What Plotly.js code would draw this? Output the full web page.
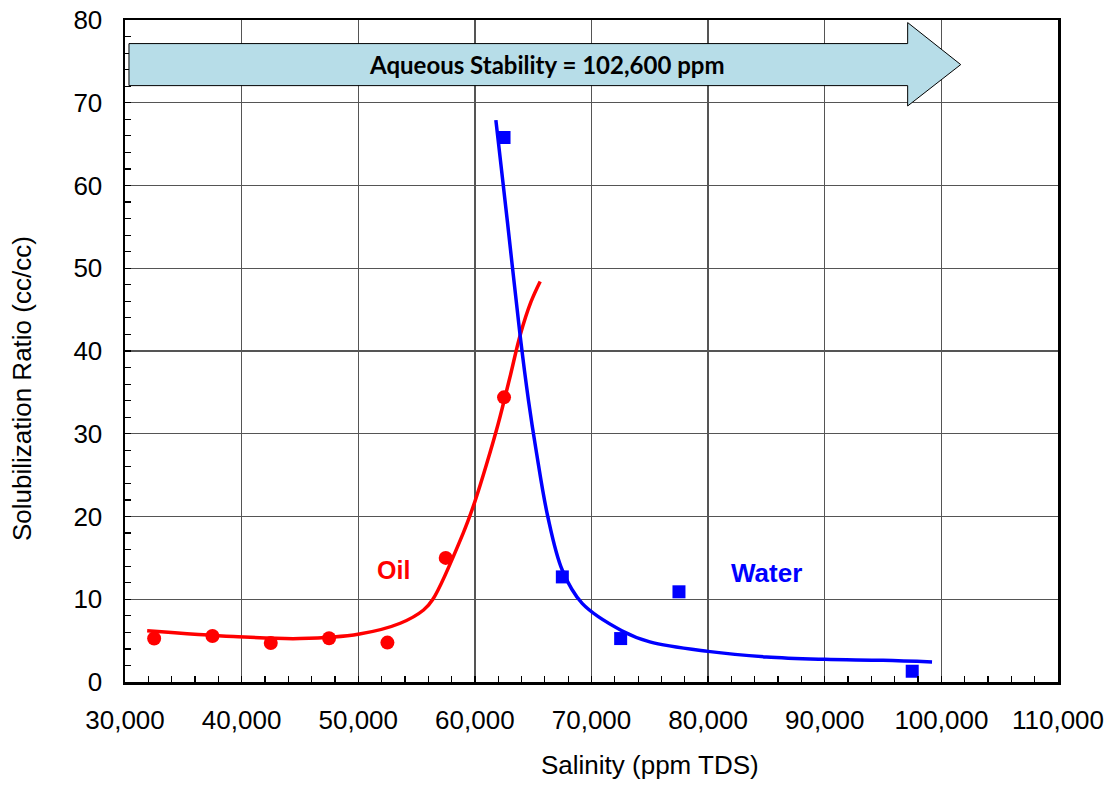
<!DOCTYPE html>
<html>
<head>
<meta charset="utf-8">
<script src="https://cdn.plot.ly/plotly-3.0.1.min.js"></script>
<style>html,body{margin:0;padding:0;background:#fff;}#chart{width:1113px;height:785px;}</style>
</head>
<body>
<div id="chart"></div>
<script>
// Measured data points
const oilX = [32500, 37500, 42500, 47500, 52500, 57500, 62500];
const oilY = [5.25, 5.55, 4.72, 5.28, 4.76, 15.0, 34.4];
const waterX = [62500, 67500, 72500, 77500, 97500];
const waterY = [65.8, 12.7, 5.25, 10.9, 1.3];

// Fitted trend curves
const oilFitX = [31900, 39300, 45000, 50100, 53600, 55600, 56400, 59000, 60000, 61000, 62000, 63000, 63900, 64800, 65600];
const oilFitY = [6.2, 5.5, 5.25, 5.8, 7.1, 8.7, 10.0, 18.0, 21.8, 26.3, 31.2, 36.8, 42.0, 45.9, 48.4];
const waterFitX = [61800, 62800, 63860, 64600, 65250, 66250, 67500, 69200, 72600, 75000, 80000, 85000, 90000, 95000, 99200];
const waterFitY = [67.9, 55.5, 42.1, 34.0, 28.0, 20.0, 13.5, 9.5, 6.2, 4.85, 3.7, 3.02, 2.74, 2.62, 2.42];

// Tick values
const xTicks = [30000, 40000, 50000, 60000, 70000, 80000, 90000, 100000, 110000];
const yTicks = [0, 10, 20, 30, 40, 50, 60, 70, 80];

const stabilityText = 'Aqueous Stability = 102,600 ppm';
const xTitle = 'Salinity (ppm TDS)';
const yTitle = 'Solubilization Ratio (cc/cc)';

const FONT = 'Liberation Sans, Arial, sans-serif';

const traces = [
  {x: oilFitX, y: oilFitY, mode: 'lines', line: {color: '#FF0000', width: 3.5, shape: 'spline', smoothing: 1}, hoverinfo: 'skip'},
  {x: waterFitX, y: waterFitY, mode: 'lines', line: {color: '#0000FF', width: 3.5, shape: 'spline', smoothing: 1}, hoverinfo: 'skip'},
  {x: oilX, y: oilY, mode: 'markers', marker: {color: '#FF0000', size: 14, symbol: 'circle'}},
  {x: waterX, y: waterY, mode: 'markers', marker: {color: '#0000FF', size: 13, symbol: 'square'}}
];

// arrow geometry in data units
const aL = 30340, aB = 97110, aT = 101660;
const yTop = 77.15, yBot = 72.07, hTop = 79.69, hBot = 69.61, yMid = 74.61;
const arrowPath = `M ${aL},${yTop} L ${aB},${yTop} L ${aB},${hTop} L ${aT},${yMid} L ${aB},${hBot} L ${aB},${yBot} L ${aL},${yBot} Z`;

const layout = {
  width: 1113, height: 785,
  margin: {l: 125, r: 55, t: 20, b: 103},
  paper_bgcolor: '#fff', plot_bgcolor: '#fff',
  showlegend: false,
  separators: '.,',
  font: {family: FONT, size: 26, color: '#000'},
  xaxis: {
    range: [30000, 110000], tickvals: xTicks, tickformat: ',d',
    showgrid: true, gridcolor: '#555', gridwidth: 1.3,
    showline: true, linecolor: '#000', linewidth: 2.5, mirror: true,
    ticks: 'inside', ticklen: 6, tickcolor: '#000', tickwidth: 1.3,
    minor: {dtick: 2000, ticks: 'inside', ticklen: 6, tickcolor: '#000', tickwidth: 1.2, showgrid: false},
    ticklabelstandoff: 13,
    tickfont: {family: FONT, size: 26, color: '#000'},
    zeroline: false
  },
  yaxis: {
    range: [0, 80], tickvals: yTicks,
    showgrid: true, gridcolor: '#555', gridwidth: 1.3,
    showline: true, linecolor: '#000', linewidth: 2.5, mirror: true,
    ticks: 'inside', ticklen: 6, tickcolor: '#000', tickwidth: 1.3,
    minor: {dtick: 2, ticks: 'inside', ticklen: 6, tickcolor: '#000', tickwidth: 1.2, showgrid: false},
    ticklabelstandoff: 15,
    tickfont: {family: FONT, size: 26, color: '#000'},
    zeroline: false
  },
  shapes: [
    {type: 'path', xref: 'x', yref: 'y', path: arrowPath, fillcolor: '#B7DDE8', line: {color: '#000', width: 1}, layer: 'above'}
  ],
  annotations: [
    {xref: 'x', yref: 'y', x: 66200, y: 74.6, text: '<b>' + stabilityText + '</b>', showarrow: false,
     font: {family: 'Lato, Open Sans, sans-serif', size: 24, color: '#000'}, xanchor: 'center', yanchor: 'middle'},
    {xref: 'x', yref: 'y', x: 53000, y: 13.5, text: '<b>Oil</b>', showarrow: false,
     font: {family: FONT, size: 25, color: '#FF0000'}, xanchor: 'center', yanchor: 'middle'},
    {xref: 'x', yref: 'y', x: 85000, y: 13.2, text: '<b>Water</b>', showarrow: false,
     font: {family: FONT, size: 26, color: '#0000FF'}, xanchor: 'center', yanchor: 'middle'},
    {xref: 'paper', yref: 'paper', x: 0.5627, y: -0.1254, text: xTitle, showarrow: false,
     font: {family: FONT, size: 26, color: '#000'}, xanchor: 'center', yanchor: 'middle'},
    {xref: 'paper', yref: 'paper', x: -0.1104, y: 0.444, text: yTitle, showarrow: false, textangle: -90,
     font: {family: FONT, size: 26, color: '#000'}, xanchor: 'center', yanchor: 'middle'}
  ]
};

Plotly.newPlot('chart', traces, layout, {displayModeBar: false, staticPlot: true});
</script>
</body>
</html>
